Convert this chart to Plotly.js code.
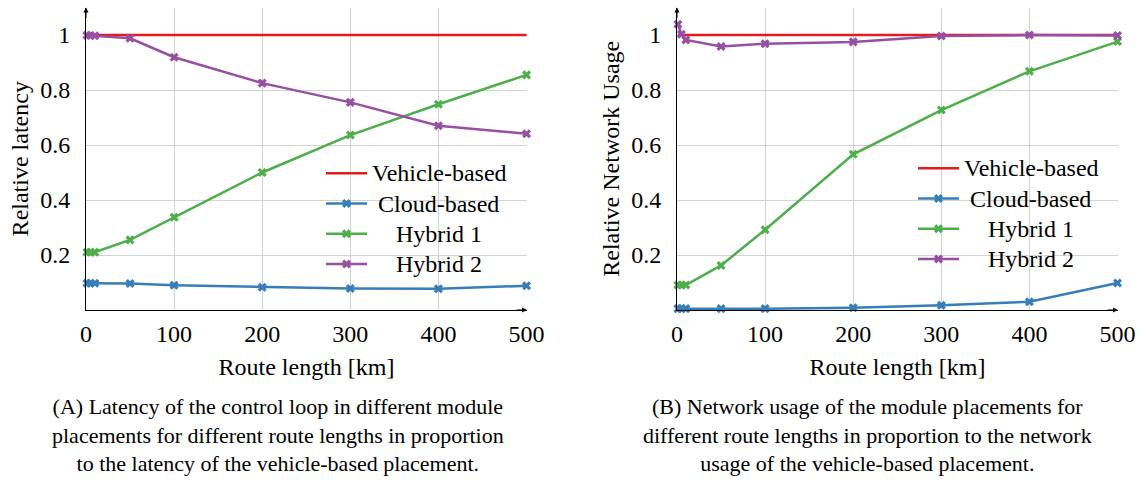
<!DOCTYPE html>
<html>
<head>
<meta charset="utf-8">
<script src="https://cdn.plot.ly/plotly-3.0.1.min.js"></script>
<style>html,body{margin:0;padding:0;background:#fff;}#chart{width:1142px;height:485px;}</style>
</head>
<body>
<div id="chart"></div>
<script>
// Route lengths [km]
const routeKm = [1, 5, 10, 50, 100, 200, 300, 400, 500];

// (A) Relative latency
const latVehicle = [1, 1, 1, 1, 1, 1, 1, 1, 1];
const latCloud   = [0.097, 0.097, 0.097, 0.096, 0.090, 0.083, 0.078, 0.077, 0.088];
const latHybrid1 = [0.210, 0.210, 0.210, 0.255, 0.337, 0.500, 0.636, 0.748, 0.855];
const latHybrid2 = [0.999, 0.998, 0.997, 0.988, 0.919, 0.825, 0.755, 0.670, 0.641];

// (B) Relative network usage
const netVehicle = [1, 1, 1, 1, 1, 1, 1, 1, 1];
const netCloud   = [0.005, 0.005, 0.005, 0.005, 0.005, 0.008, 0.017, 0.030, 0.098];
const netHybrid1 = [0.091, 0.091, 0.091, 0.162, 0.292, 0.566, 0.727, 0.868, 0.976];
const netHybrid2 = [1.039, 1.003, 0.982, 0.958, 0.968, 0.975, 0.996, 1.000, 0.998];

const seriesNames = ['Vehicle-based', 'Cloud-based', 'Hybrid 1', 'Hybrid 2'];
const xTickVals = [0, 100, 200, 300, 400, 500];
const yTickVals = [0.2, 0.4, 0.6, 0.8, 1];
const yTickText = ['0.2', '0.4', '0.6', '0.8', '1'];

const colors = ['#e41a1c', '#377eb8', '#4daf4a', '#984ea3'];
const FONT = 'Liberation Serif';
const FS = 24;
const NB = '\u00a0';
// leading non-breaking spaces to centre the legend labels as in the reference
const legendPad = [0, 1, 4, 4];

function mk(y, i, xa, ya, leg) {
  const t = {
    x: routeKm, y: y, xaxis: xa, yaxis: ya, legend: leg,
    name: '<span style="font-size:' + FS + 'px">' + NB.repeat(legendPad[i]) + seriesNames[i] + '</span>',
    type: 'scatter', mode: i === 0 ? 'lines' : 'lines+markers',
    line: {color: colors[i], width: 2.5},
    cliponaxis: false
  };
  if (i > 0) t.marker = {symbol: 'x', size: 8, color: colors[i]};
  return t;
}

const data = [
  mk(latVehicle, 0, 'x', 'y', 'legend'),
  mk(latCloud, 1, 'x', 'y', 'legend'),
  mk(latHybrid1, 2, 'x', 'y', 'legend'),
  mk(latHybrid2, 3, 'x', 'y', 'legend'),
  mk(netVehicle, 0, 'x2', 'y2', 'legend2'),
  mk(netCloud, 1, 'x2', 'y2', 'legend2'),
  mk(netHybrid1, 2, 'x2', 'y2', 'legend2'),
  mk(netHybrid2, 3, 'x2', 'y2', 'legend2')
];

const W = 1142, H = 485;
const tf = {family: FONT, size: FS, color: '#000'};
function xAxis(d0, d1, anchor) {
  return {
    domain: [d0 / W, d1 / W], anchor: anchor, range: [0, 500.5],
    tickvals: xTickVals, ticks: 'outside', ticklen: 2, tickcolor: 'rgba(0,0,0,0)',
    showgrid: true, gridcolor: '#d3d3d3', gridwidth: 1, zeroline: false,
    showline: true, linecolor: '#000', linewidth: 1,
    tickfont: tf,
    title: {text: 'Route length [km]', font: tf, standoff: 12}
  };
}
function yAxis(anchor, title) {
  return {
    domain: [1 - 310 / H, 1 - 7.5 / H], anchor: anchor, range: [0, 1.1],
    tickvals: yTickVals, ticktext: yTickText, ticks: 'outside', ticklen: 10, tickcolor: 'rgba(0,0,0,0)',
    showgrid: true, gridcolor: '#d3d3d3', gridwidth: 1, zeroline: false,
    showline: true, linecolor: '#000', linewidth: 1,
    tickfont: tf,
    title: {text: title, font: tf, standoff: 4}
  };
}

function legendAt(px, py) {
  return {
    x: px / W, y: 1 - py / H, xanchor: 'left', yanchor: 'top',
    bgcolor: 'rgba(255,255,255,0)', borderwidth: 0,
    font: {family: FONT, size: 21, color: '#000'},
    tracegroupgap: 0, itemwidth: 41
  };
}

// white legend box drawn over the grid but beneath the lines
function legendBox(x0, y0, x1, y1) {
  return {type: 'rect', xref: 'paper', yref: 'paper', layer: 'between',
    x0: x0 / W, x1: x1 / W, y0: 1 - y1 / H, y1: 1 - y0 / H,
    fillcolor: '#ffffff', line: {width: 0}};
}

function arrow(xr, yr, x, y, ax, ay) {
  return {xref: xr, yref: yr, x: x, y: y, axref: 'pixel', ayref: 'pixel', ax: ax, ay: ay,
    text: '', showarrow: true, arrowhead: 2, arrowsize: 1, arrowwidth: 1, arrowcolor: '#000'};
}

const cf = {family: FONT, size: 22, color: '#000'};
const layout = {
  width: W, height: H,
  margin: {l: 0, r: 0, t: 0, b: 0},
  paper_bgcolor: '#fff', plot_bgcolor: '#fff',
  font: tf,
  showlegend: true,
  xaxis: xAxis(86, 527, 'y'),
  yaxis: yAxis('x', 'Relative latency'),
  xaxis2: xAxis(677, 1118, 'y2'),
  yaxis2: yAxis('x2', 'Relative Network Usage'),
  legend: legendAt(321, 153),
  legend2: legendAt(913, 148),
  shapes: [
    legendBox(318, 155, 522, 277),
    legendBox(909, 147, 1117, 277)
  ],
  annotations: [
    arrow('x', 'y', 0, 1.1, 0, 12),
    arrow('x', 'y', 500.5, 0, -12, 0),
    arrow('x2', 'y2', 0, 1.1, 0, 12),
    arrow('x2', 'y2', 500.5, 0, -12, 0),
    {xref: 'paper', yref: 'paper', x: 278 / W, y: 1 - 392 / H, xanchor: 'center', yanchor: 'top',
     showarrow: false, align: 'center', font: cf,
     text: '(A) Latency of the control loop in different module<br>placements for different route lengths in proportion<br>to the latency of the vehicle-based placement.'},
    {xref: 'paper', yref: 'paper', x: 867 / W, y: 1 - 392 / H, xanchor: 'center', yanchor: 'top',
     showarrow: false, align: 'center', font: cf,
     text: '(B) Network usage of the module placements for<br>different route lengths in proportion to the network<br>usage of the vehicle-based placement.'}
  ]
};

Plotly.newPlot('chart', data, layout, {staticPlot: true, displayModeBar: false});
</script>
</body>
</html>
